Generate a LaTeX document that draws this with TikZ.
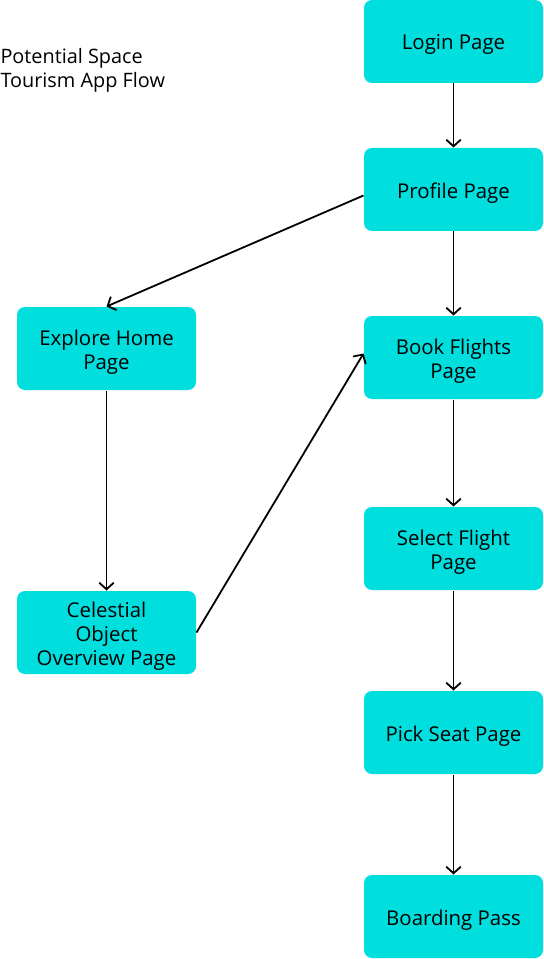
\documentclass[tikz,border=0pt]{standalone}
\usepackage{fontspec}
\setmainfont{Open Sans}
\usetikzlibrary{arrows.meta}
\definecolor{boxcyan}{RGB}{0,222,222}
\tikzset{every picture/.style={line width=0.75pt}}
\tikzset{
	pagebox/.style={fill=boxcyan, draw=none, rounded corners=6pt, minimum width=134.25pt, minimum height=62.25pt, inner sep=0pt},
	pagetext/.style={align=center, inner sep=0pt, yshift=-2.4pt, font=\fontsize{15.3}{18}\selectfont},
	flow/.style={line width=1.35pt, -{Straight Barb[length=5pt,width=11pt,line width=1.35pt]}}
}
\begin{document}
\begin{tikzpicture}[x=0.75pt,y=0.75pt,yscale=-1,xscale=1]
	\useasboundingbox (0,0) rectangle (543,959);
	
	% Text Node
	\node [anchor=north west, inner sep=0pt, align=left, font=\fontsize{14.9}{18}\selectfont] (title) at (0,48) {Potential Space\\Tourism App Flow};
	
	%Shape: Rectangle [login]
	\node [pagebox, label={[pagetext]center:Login Page}] (login) at (453.5,41.5) {};
	%Shape: Rectangle [profile]
	\node [pagebox, label={[pagetext]center:Profile Page}] (profile) at (453.5,189.5) {};
	%Shape: Rectangle [explore]
	\node [pagebox, label={[pagetext]center:Explore Home\\Page}] (explore) at (106.5,348.5) {};
	%Shape: Rectangle [book]
	\node [pagebox, label={[pagetext]center:Book Flights\\Page}] (book) at (453.5,357.5) {};
	%Shape: Rectangle [select]
	\node [pagebox, label={[pagetext]center:Select Flight\\Page}] (select) at (453.5,548.5) {};
	%Shape: Rectangle [celestial]
	\node [pagebox, label={[pagetext]center:Celestial\\Object\\Overview Page}] (celestial) at (106.5,632.5) {};
	%Shape: Rectangle [seat]
	\node [pagebox, label={[pagetext]center:Pick Seat Page}] (seat) at (453.5,732.5) {};
	%Shape: Rectangle [boarding]
	\node [pagebox, label={[pagetext]center:Boarding Pass}] (boarding) at (453.5,916.5) {};
	
	%Straight Lines
	\draw [flow] (login.south) -- (profile.north);
	\draw [flow] ([yshift=4.5pt]profile.west) -- (explore.north);
	\draw [flow] (profile.south) -- (book.north);
	\draw [flow] (explore.south) -- (celestial.north);
	\draw [flow] (celestial.east) -- ([yshift=-3pt]book.west);
	\draw [flow] (book.south) -- (select.north);
	\draw [flow] (select.south) -- (seat.north);
	\draw [flow] (seat.south) -- (boarding.north);
	
\end{tikzpicture}
\end{document}
